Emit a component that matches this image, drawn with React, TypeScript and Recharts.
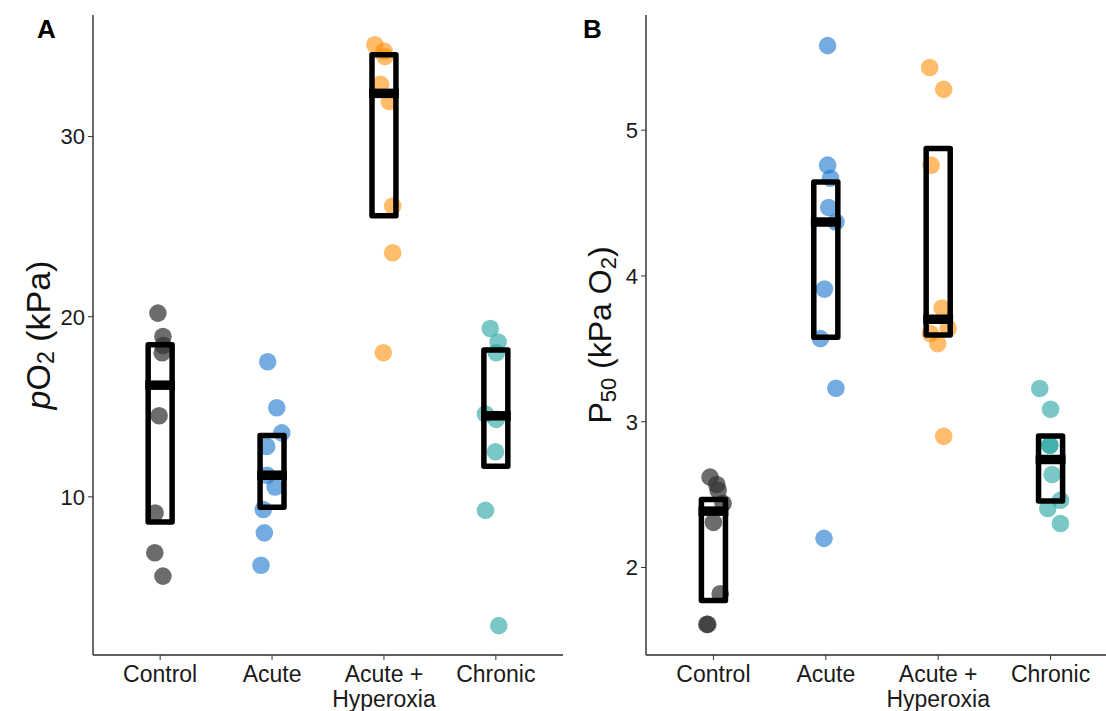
import React from 'react';
import {
  ComposedChart,
  XAxis,
  YAxis,
  Scatter,
  ReferenceArea,
  ReferenceLine,
} from 'recharts';

const FONT = '"Liberation Sans", Arial, Helvetica, sans-serif';

// Group names along the x axis (one entry per text line)
const groupLabels: string[][] = [['Control'], ['Acute'], ['Acute +', 'Hyperoxia'], ['Chronic']];

// Point colours per group
const groupColors = ['#333333', '#1874cd', '#ff8c00', '#20a39e'];
const groupOpacity = [0.72, 0.6, 0.58, 0.6];

// ---------- Panel A: pO2 (kPa) ----------
const po2Control = [20.2, 18.9, 18.4, 18.0, 14.5, 9.1, 6.9, 5.6];
const po2Acute = [17.5, 14.95, 13.55, 12.8, 11.2, 10.55, 9.3, 8.0, 6.2];
const po2AcuteHyperoxia = [35.1, 34.75, 34.45, 32.9, 31.95, 26.15, 23.55, 18.0];
const po2Chronic = [19.35, 18.6, 18.0, 14.6, 14.3, 12.5, 9.25, 2.85];

// horizontal jitter (category units)
const po2ControlJitter = [-0.02, 0.025, 0.027, 0.018, -0.009, -0.045, -0.048, 0.025];
const po2AcuteJitter = [-0.039, 0.042, 0.087, -0.048, -0.045, 0.027, -0.078, -0.069, -0.099];
const po2AcuteHyperoxiaJitter = [-0.081, 0.0, 0.009, -0.03, 0.048, 0.078, 0.078, -0.006];
const po2ChronicJitter = [-0.05, 0.02, 0.004, -0.093, 0.004, -0.003, -0.093, 0.026];

// box: lower quartile, median, upper quartile
const po2Q1 = [8.6, 9.42, 25.6, 11.7];
const po2Median = [16.2, 11.2, 32.4, 14.5];
const po2Q3 = [18.45, 13.4, 34.55, 18.15];

const po2Ticks = [10, 20, 30];
const po2Domain: [number, number] = [1.22, 36.75];

// ---------- Panel B: P50 (kPa O2) ----------
const p50Control = [2.62, 2.57, 2.53, 2.44, 2.31, 1.82, 1.61, 1.61];
const p50Acute = [5.58, 4.76, 4.67, 4.47, 4.37, 3.91, 3.57, 3.23, 2.2];
const p50AcuteHyperoxia = [5.43, 5.28, 4.76, 3.78, 3.64, 3.605, 3.536, 2.9];
const p50Chronic = [3.228, 3.086, 2.839, 2.839, 2.638, 2.462, 2.405, 2.302];

const p50ControlJitter = [-0.03, 0.03, 0.042, 0.086, 0.0, 0.06, -0.059, -0.05];
const p50AcuteJitter = [0.016, 0.016, 0.042, 0.026, 0.09, -0.012, -0.048, 0.09, -0.016];
const p50AcuteHyperoxiaJitter = [-0.076, 0.049, -0.063, 0.035, 0.088, -0.069, -0.004, 0.049];
const p50ChronicJitter = [-0.096, 0.0, -0.007, -0.007, 0.014, 0.088, -0.025, 0.088];

const p50Q1 = [1.774, 3.58, 3.595, 2.456];
const p50Median = [2.387, 4.37, 3.703, 2.741];
const p50Q3 = [2.466, 4.644, 4.874, 2.902];

const p50Ticks = [2, 3, 4, 5];
const p50Domain: [number, number] = [1.4, 5.79];

const BOX_HALF = 0.107;
const MEDIAN_HALF = 0.133;

function GroupTick(props: any) {
  const { x, y, payload } = props;
  const lines = groupLabels[Math.round(payload.value) - 1] || [];
  return (
    <text x={x} y={y} textAnchor="middle" fontSize={23} fill="#1a1a1a" fontFamily={FONT}>
      {lines.map((line, i) => (
        <tspan key={i} x={x} dy={i === 0 ? 21.5 : 25}>
          {line}
        </tspan>
      ))}
    </text>
  );
}

function Dot(color: string, opacity: number) {
  return (p: any) => <circle cx={p.cx} cy={p.cy} r={8.8} fill={color} fillOpacity={opacity} />;
}

function AxisTitle(props: any) {
  const { viewBox, offsetX, size, children } = props;
  const vb = viewBox || { x: 0, y: 15, width: 90, height: 640 };
  const cx = vb.x + offsetX;
  const cy = vb.y + vb.height / 2;
  return (
    <text
      x={cx}
      y={cy}
      transform={`rotate(-90, ${cx}, ${cy})`}
      textAnchor="middle"
      dominantBaseline="central"
      fontSize={size}
      fill="#111"
      fontFamily={FONT}
    >
      {children}
    </text>
  );
}

interface PanelProps {
  groups: number[][];
  jitters: number[][];
  q1: number[];
  median: number[];
  q3: number[];
  domain: [number, number];
  yTicks: number[];
  width: number;
  yAxisWidth: number;
  titleOffset: number;
  titleSize: number;
  title: React.ReactNode;
}

function Panel({
  groups,
  jitters,
  q1,
  median,
  q3,
  domain,
  yTicks,
  width,
  yAxisWidth,
  titleOffset,
  titleSize,
  title,
}: PanelProps) {
  return (
    <ComposedChart width={width} height={711} margin={{ top: 15, right: 0, bottom: 0, left: 0 }}>
      <XAxis
        type="number"
        dataKey="x"
        domain={[0.4, 4.6]}
        ticks={[1, 2, 3, 4]}
        interval={0}
        allowDataOverflow
        height={56}
        tick={<GroupTick />}
        tickSize={5}
        tickMargin={0}
        axisLine={{ stroke: '#2a2a2a', strokeWidth: 1.4 }}
        tickLine={{ stroke: '#333', strokeWidth: 1 }}
      />
      <YAxis
        type="number"
        dataKey="y"
        domain={domain}
        ticks={yTicks}
        interval={0}
        allowDataOverflow
        width={yAxisWidth}
        tick={{ fontSize: 22, fill: '#1a1a1a', fontFamily: FONT }}
        tickSize={5}
        tickMargin={3}
        axisLine={{ stroke: '#2a2a2a', strokeWidth: 1.4 }}
        tickLine={{ stroke: '#333', strokeWidth: 1 }}
        label={
          <AxisTitle offsetX={titleOffset} size={titleSize}>
            {title}
          </AxisTitle>
        }
      />
      {groups.map((vals, g) => (
        <Scatter
          key={`pts-${g}`}
          data={vals.map((v, i) => ({ x: g + 1 + jitters[g][i], y: v }))}
          shape={Dot(groupColors[g], groupOpacity[g])}
          isAnimationActive={false}
        />
      ))}
      {q1.map((lo, g) => (
        <ReferenceArea
          key={`box-${g}`}
          x1={g + 1 - BOX_HALF}
          x2={g + 1 + BOX_HALF}
          y1={lo}
          y2={q3[g]}
          fill="none"
          fillOpacity={0}
          stroke="#000"
          strokeWidth={5.5}
          strokeOpacity={1}
          strokeLinejoin="round"
          zIndex={900}
        />
      ))}
      {median.map((m, g) => (
        <ReferenceLine
          key={`med-${g}`}
          segment={[
            { x: g + 1 - MEDIAN_HALF, y: m },
            { x: g + 1 + MEDIAN_HALF, y: m },
          ]}
          stroke="#000"
          strokeWidth={9.5}
          zIndex={910}
        />
      ))}
    </ComposedChart>
  );
}

export default function App() {
  const letterStyle: React.CSSProperties = {
    position: 'absolute',
    top: 14,
    fontFamily: FONT,
    fontWeight: 'bold',
    fontSize: 26,
    lineHeight: '30px',
    color: '#000',
  };
  return (
    <div
      style={{
        position: 'absolute',
        left: 0,
        top: 0,
        width: 1106,
        height: 711,
        overflow: 'hidden',
        background: '#fff',
      }}
    >
      <div style={{ position: 'absolute', left: 0, top: 0 }}>
        <Panel
          groups={[po2Control, po2Acute, po2AcuteHyperoxia, po2Chronic]}
          jitters={[po2ControlJitter, po2AcuteJitter, po2AcuteHyperoxiaJitter, po2ChronicJitter]}
          q1={po2Q1}
          median={po2Median}
          q3={po2Q3}
          domain={po2Domain}
          yTicks={po2Ticks}
          width={563}
          yAxisWidth={93}
          titleOffset={38}
          titleSize={34}
          title={
            <>
              <tspan fontStyle="italic">p</tspan>
              <tspan>O</tspan>
              <tspan fontSize={23} dy={8}>2</tspan>
              <tspan dy={-8}> (kPa)</tspan>
            </>
          }
        />
      </div>
      <div style={{ position: 'absolute', left: 560, top: 0 }}>
        <Panel
          groups={[p50Control, p50Acute, p50AcuteHyperoxia, p50Chronic]}
          jitters={[p50ControlJitter, p50AcuteJitter, p50AcuteHyperoxiaJitter, p50ChronicJitter]}
          q1={p50Q1}
          median={p50Median}
          q3={p50Q3}
          domain={p50Domain}
          yTicks={p50Ticks}
          width={558}
          yAxisWidth={86}
          titleOffset={40}
          titleSize={32}
          title={
            <>
              <tspan>P</tspan>
              <tspan fontSize={22} dy={8}>50</tspan>
              <tspan dy={-8}> (kPa O</tspan>
              <tspan fontSize={22} dy={8}>2</tspan>
              <tspan dy={-8}>)</tspan>
            </>
          }
        />
      </div>
      <div style={{ ...letterStyle, left: 37 }}>A</div>
      <div style={{ ...letterStyle, left: 583 }}>B</div>
    </div>
  );
}
